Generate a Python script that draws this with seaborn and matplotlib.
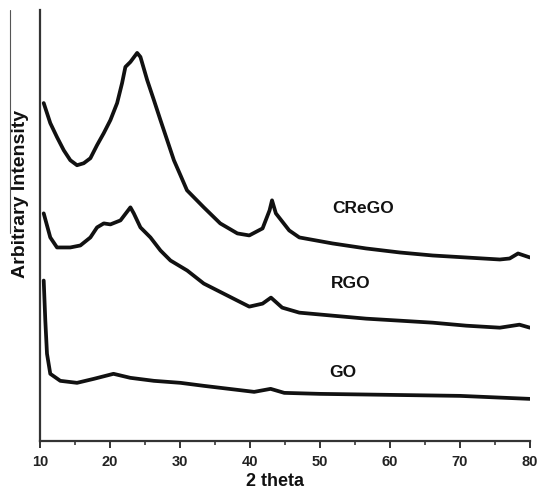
import matplotlib
matplotlib.use("Agg")
import matplotlib.pyplot as plt
import seaborn as sns
import pandas as pd
from matplotlib.ticker import MultipleLocator
from matplotlib.lines import Line2D

sns.set_theme(style="white")
plt.rcParams['font.family'] = ['Liberation Sans', 'DejaVu Sans']

crego_x = [10.53, 11.47, 12.43, 13.39, 14.33, 15.29, 16.25, 17.2, 18.15, 19.11, 20.06, 21.02, 21.73,
           22.2, 22.92, 23.88, 24.35, 25.31, 26.27, 27.21, 28.17, 29.13, 30.07, 31.0, 33.4, 35.75,
           38.2, 39.9, 41.8, 42.8, 43.15, 43.7, 45.6, 47.05, 51.8, 56.6, 61.4, 66.1, 70.9, 75.7,
           77.1, 78.3, 80.0]
crego_y = [337, 317, 303, 290, 280, 275, 277, 282, 295, 307, 320, 337, 357,
           373, 378, 387, 383, 360, 340, 320, 300, 280, 265, 250, 233, 217,
           207, 205, 212, 230, 240, 227, 210, 203, 197, 192, 188, 185, 183, 181,
           182, 187, 183]

rgo_x = [10.53, 11.47, 12.43, 14.33, 15.77, 17.2, 18.15, 19.11, 20.06, 21.5, 22.92, 23.4, 24.35,
         25.78, 27.21, 28.64, 31.03, 33.4, 38.2, 39.9, 41.8, 43.0, 44.6, 47.05, 51.8, 56.6, 61.4,
         66.1, 70.9, 75.7, 78.5, 80.0]
rgo_y = [227, 203, 193, 193, 195, 203, 213, 217, 216, 220, 233, 227, 213,
         203, 190, 180, 170, 157, 140, 134, 137, 143, 133, 128, 125, 122, 120,
         118, 115, 113, 116, 113]

go_x = [10.53, 10.76, 11.0, 11.47, 12.9, 15.29, 17.7, 20.5, 22.9, 26.27, 30.07, 33.4, 38.2,
        40.6, 42.95, 44.9, 50.0, 60.0, 70.0, 80.0]
go_y = [160, 120, 87, 67, 60, 58, 62, 67, 63, 60, 58, 55, 51,
        49, 52, 48, 47, 46, 45, 42]

labels = ["CReGO", "RGO", "GO"]
label_pos_x = [51.8, 51.6, 51.3]
label_pos_y = [232, 157, 68]

frames = []
for name, xs, ys in [("CReGO", crego_x, crego_y), ("RGO", rgo_x, rgo_y), ("GO", go_x, go_y)]:
    frames.append(pd.DataFrame({"theta": xs, "intensity": ys, "sample": name}))
df = pd.concat(frames, ignore_index=True)

fig = plt.figure(figsize=(5.39, 4.9), dpi=100)
ax = fig.add_axes([0.0742, 0.100, 0.909, 0.880])

sns.lineplot(data=df, x="theta", y="intensity", units="sample", estimator=None,
             color="#111111", linewidth=2.7, ax=ax, sort=False)

for lab, lx, ly in zip(labels, label_pos_x, label_pos_y):
    ax.text(lx, ly, lab, fontsize=12.5, fontweight="bold", ha="left", va="center", color="#111111")

ax.set_xlim(10, 80)
ax.set_ylim(0, 430)
ax.set_yticks([])
ax.xaxis.set_major_locator(MultipleLocator(10))
ax.xaxis.set_minor_locator(MultipleLocator(5))
ax.tick_params(axis="x", which="major", direction="out", length=5, width=1.3, bottom=True,
               labelsize=10.5, colors="#222222", pad=5)
ax.tick_params(axis="x", which="minor", direction="out", length=3, width=1.1, bottom=True)
for t in ax.get_xticklabels():
    t.set_fontweight("bold")
for s in ["top", "right"]:
    ax.spines[s].set_visible(False)
for s in ["left", "bottom"]:
    ax.spines[s].set_linewidth(1.6)
    ax.spines[s].set_color("#333333")

ax.set_xlabel("2 theta", fontsize=13, fontweight="bold", color="#111111", labelpad=1)
ax.xaxis.set_label_coords(0.48, -0.075)
ax.set_ylabel("Arbitrary Intensity", fontsize=14, fontweight="bold", color="#111111")
ax.yaxis.set_label_coords(-0.022, 0.573)

fig.add_artist(Line2D([10/539, 10/539], [1 - 10/490, 1 - 233/490], color="#555555", linewidth=0.8))

fig.savefig("out.png", dpi=100, facecolor="white")
